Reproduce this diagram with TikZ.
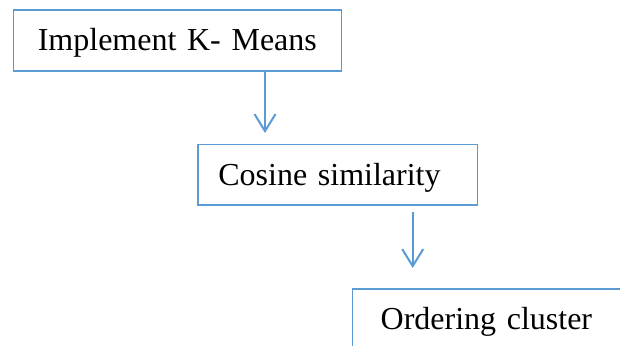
\documentclass[tikz,border=0pt]{standalone}
\usepackage{fontspec}
\setmainfont{Liberation Serif}
\usetikzlibrary{arrows.meta}
\definecolor{flowblue}{HTML}{5B9BD5}
\tikzset{
  stepbox/.style={draw=flowblue, line width=1.3pt, rectangle, anchor=north west,
    minimum height=61pt, inner ysep=0pt, text height=21pt, text depth=0pt,
    font=\fontsize{32}{38}\selectfont, align=left},
  flowarrow/.style={draw=flowblue, line width=2pt,
    -{Straight Barb[length=17pt,width=21pt]}}
}
\begin{document}
\begin{tikzpicture}[x=1pt,y=-1pt]
  \clip (0,0) rectangle (620,345);
  % process steps
  \node[stepbox, minimum width=328pt, text width=328pt, align=center, inner xsep=0pt]
    (b1) at (12.7,9.3) {Implement K- Means};
  \node[stepbox, minimum height=60.3pt, inner xsep=20.4pt, text width=238.6pt]
    (b2) at (197.3,144) {Cosine similarity};
  \node[stepbox, inner xsep=28pt, text width=224pt]
    (b3) at (352,288.3) {Ordering cluster};
  % connectors
  \coordinate (t1) at (265,133);
  \coordinate (t2) at (412.7,268);
  \draw[flowarrow] (t1 |- b1.south) -- (t1);
  \draw[flowarrow, shorten <=6pt] (t2 |- b2.south) -- (t2);
\end{tikzpicture}
\end{document}
